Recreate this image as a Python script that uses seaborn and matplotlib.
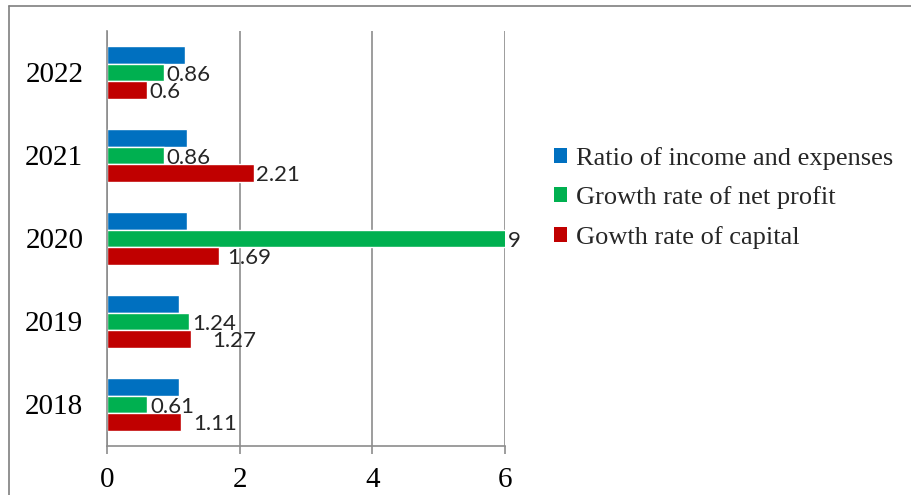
import matplotlib
matplotlib.use("Agg")
import matplotlib.pyplot as plt
from matplotlib.lines import Line2D
from matplotlib.patches import Patch
import numpy as np
import pandas as pd
import seaborn as sns

# Financial indicators by year
years = ["2022", "2021", "2020", "2019", "2018"]
series = ["Ratio of income and expenses", "Growth rate of net profit", "Gowth rate of capital"]
ratio_income_expenses = [1.17, 1.21, 1.20, 1.08, 1.08]
growth_net_profit = [0.86, 0.86, 9, 1.24, 0.61]
growth_capital = [0.6, 2.21, 1.69, 1.27, 1.11]
x_ticks = [0, 2, 4, 6]

colors = ["#0070C0", "#00B050", "#C00000"]

df = pd.DataFrame({
    "year": years * 3,
    "series": [series[0]] * 5 + [series[1]] * 5 + [series[2]] * 5,
    "value": ratio_income_expenses + growth_net_profit + growth_capital,
})

sns.set_theme(style="white")
plt.rcParams["font.family"] = ["Liberation Serif", "DejaVu Serif"]

fig = plt.figure(figsize=(9.12, 4.95), dpi=100)
ax = fig.add_axes([0.1173, 0.099, 0.4364, 0.8384])

sns.barplot(data=df, y="year", x="value", hue="series", orient="h",
            order=years, hue_order=series, palette=colors, width=0.63,
            edgecolor="white", linewidth=1.0, saturation=1, legend=False, ax=ax)

ax.set_xlim(0, 6)
ax.set_ylim(len(years) - 0.5, -0.5)
ax.set_xticks(x_ticks)
ax.set_xticklabels([str(t) for t in x_ticks], fontsize=21)
ax.set_yticks(range(len(years)))
ax.set_yticklabels(years, fontsize=21)
ax.set_xlabel("")
ax.set_ylabel("")

grey = "#8c8c8c"
ax.xaxis.grid(True, color=grey, linewidth=1.2)
ax.yaxis.grid(False)
for side in ["top", "right"]:
    ax.spines[side].set_visible(False)
for side in ["left", "bottom"]:
    ax.spines[side].set_color(grey)
    ax.spines[side].set_linewidth(1.2)

# tick marks on the category boundaries for y, on the values for x
ax.set_yticks(np.arange(-0.5, len(years), 1.0), minor=True)
ax.tick_params(axis="y", which="major", length=0, pad=17, colors="black")
ax.tick_params(axis="y", which="minor", length=6, width=1.2, color=grey, direction="out")
ax.tick_params(axis="x", which="major", length=6, width=1.2, color=grey,
               direction="out", pad=9, bottom=True, labelcolor="black")

# value labels on the growth-rate bars
label_nudge = {("2020", series[2]): 4, ("2019", series[2]): 13, ("2018", series[2]): 7}
xmax = ax.get_xlim()[1]
for s_idx, cont in enumerate(ax.containers):
    name = series[s_idx]
    if name == series[0]:
        continue
    for y_idx, bar in enumerate(cont.patches):
        val = bar.get_width()
        yc = bar.get_y() + bar.get_height() / 2
        xe = min(val, xmax)
        extra = label_nudge.get((years[y_idx], name), 0)
        ax.annotate(f"{val:g}", (xe, yc), xytext=(2.0 + extra, -1.5),
                    textcoords="offset points", va="center", ha="left",
                    fontsize=16, color="#262626", family=["Lato", "DejaVu Sans"],
                    annotation_clip=False)

handles = [Patch(facecolor=c, edgecolor="none") for c in colors]
fig.legend(handles, series, loc="upper left", bbox_to_anchor=(0.607, 0.703),
           frameon=False, fontsize=19, handlelength=0.5, handleheight=0.5,
           handletextpad=0.35, labelspacing=0.62, borderaxespad=0, borderpad=0)

# outer frame of the chart
fig.add_artist(Line2D([9 / 912, 1], [1 - 6 / 495, 1 - 6 / 495], transform=fig.transFigure,
                      color="#7f7f7f", linewidth=1.2))
fig.add_artist(Line2D([9 / 912, 9 / 912], [0, 1 - 6 / 495], transform=fig.transFigure,
                      color="#7f7f7f", linewidth=1.2))

fig.savefig("out.png", dpi=100)
